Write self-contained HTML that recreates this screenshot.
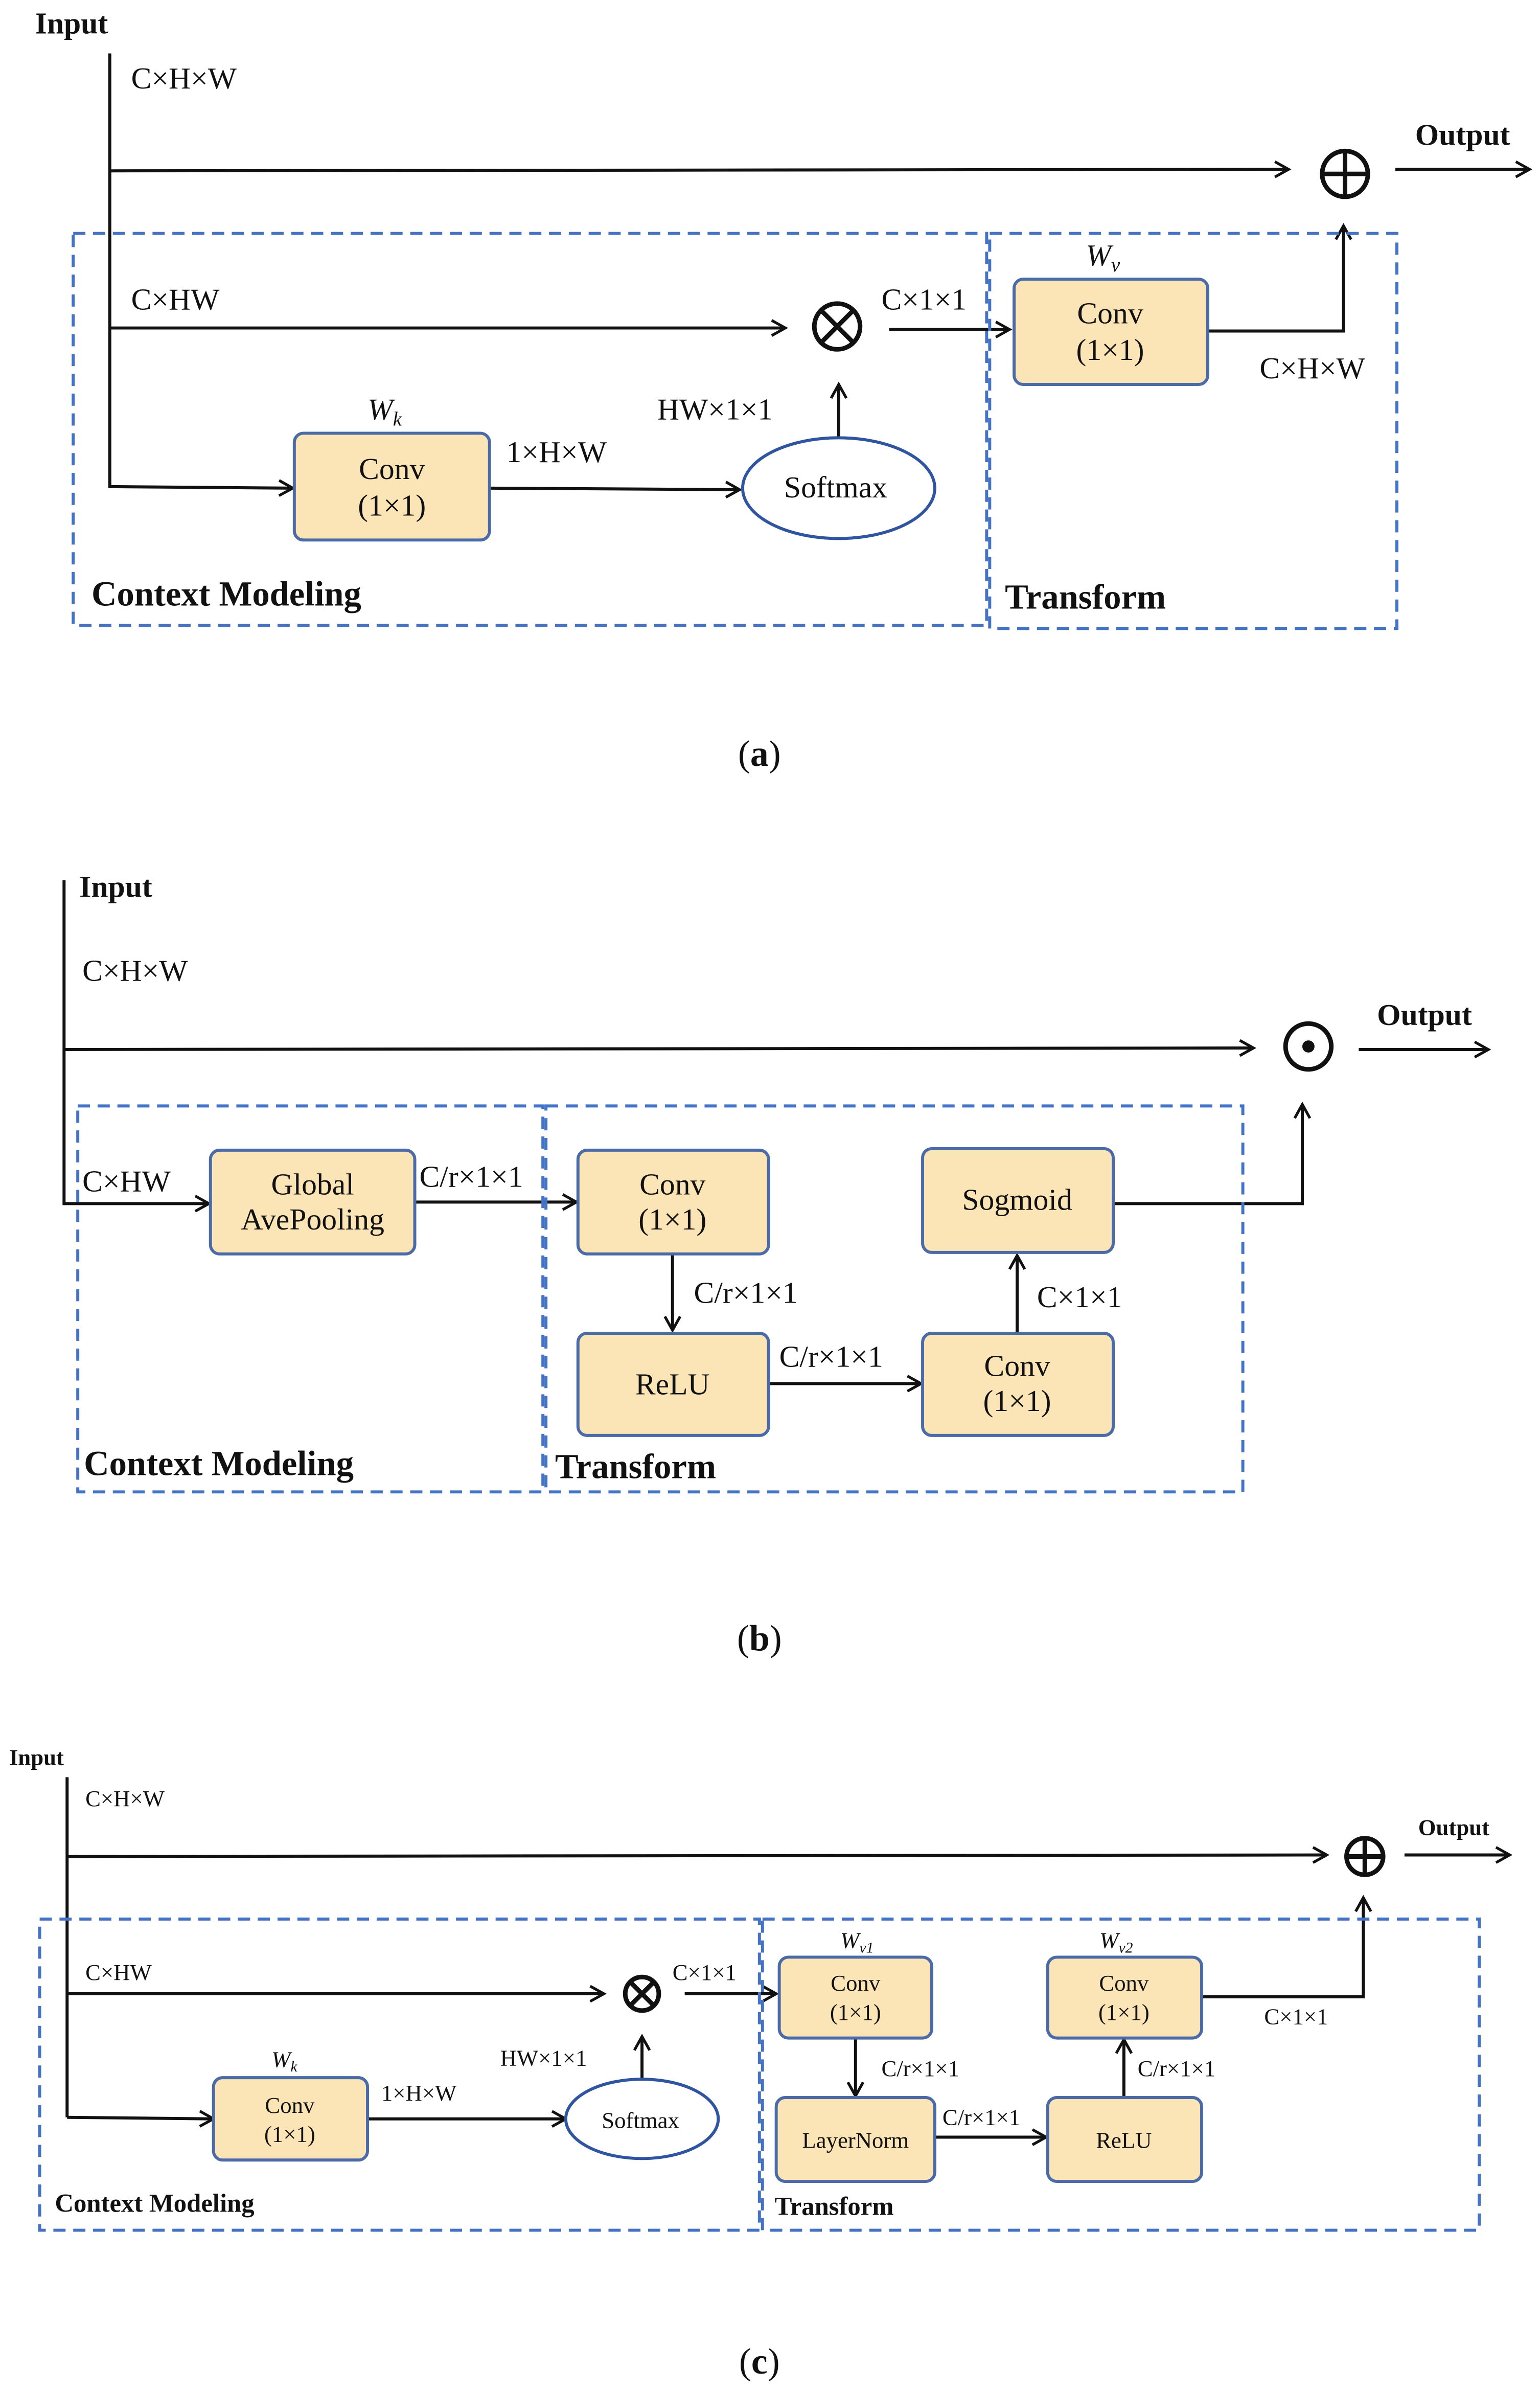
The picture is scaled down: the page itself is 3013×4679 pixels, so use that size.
<!DOCTYPE html>
<html><head><meta charset="utf-8"><style>
html,body{margin:0;padding:0;background:#fff;}
svg{display:block;}
text{font-family:"Liberation Serif",serif;fill:#111;}
.b{font-weight:bold;}
</style></head><body>
<svg width="3013" height="4679" viewBox="0 0 1024 1590" preserveAspectRatio="none" xmlns="http://www.w3.org/2000/svg">
<defs>
<marker id="ar" markerWidth="12" markerHeight="12" refX="10" refY="6" orient="auto" markerUnits="userSpaceOnUse">
<path d="M1,1 L10,6 L1,11" fill="none" stroke="#111" stroke-width="1.8"/>
</marker>
</defs>
<g transform="scale(1.014)">
<g stroke="#111" stroke-width="2" fill="none">
<line x1="72" y1="35" x2="72" y2="320"/>
<line x1="72" y1="112" x2="845" y2="111" marker-end="url(#ar)"/>
<line x1="915" y1="111" x2="1003" y2="111" marker-end="url(#ar)"/>
<line x1="72" y1="215" x2="515" y2="215" marker-end="url(#ar)"/>
<line x1="583" y1="216" x2="662" y2="216" marker-end="url(#ar)"/>
<polyline points="792,217 881,217 881,148" marker-end="url(#ar)"/>
<line x1="72" y1="319" x2="192" y2="320" marker-end="url(#ar)"/>
<line x1="321" y1="320" x2="485" y2="321" marker-end="url(#ar)"/>
<line x1="550" y1="287" x2="550" y2="252" marker-end="url(#ar)"/>
<line x1="42" y1="577" x2="42" y2="790"/>
<line x1="42" y1="688" x2="822" y2="687" marker-end="url(#ar)"/>
<line x1="891" y1="688" x2="976" y2="688" marker-end="url(#ar)"/>
<line x1="42" y1="789" x2="137" y2="789" marker-end="url(#ar)"/>
<line x1="272" y1="788" x2="378" y2="788" marker-end="url(#ar)"/>
<line x1="441" y1="822" x2="441" y2="872" marker-end="url(#ar)"/>
<line x1="504" y1="907" x2="604" y2="907" marker-end="url(#ar)"/>
<line x1="667" y1="874" x2="667" y2="823" marker-end="url(#ar)"/>
<polyline points="730,789 854,789 854,724" marker-end="url(#ar)"/>
<line x1="44" y1="1165" x2="44" y2="1388"/>
<line x1="44" y1="1217" x2="870" y2="1216" marker-end="url(#ar)"/>
<line x1="921" y1="1216" x2="990" y2="1216" marker-end="url(#ar)"/>
<line x1="44" y1="1307" x2="396" y2="1307" marker-end="url(#ar)"/>
<line x1="449" y1="1307" x2="509" y2="1307" marker-end="url(#ar)"/>
<line x1="561" y1="1336" x2="561" y2="1374" marker-end="url(#ar)"/>
<line x1="613" y1="1401" x2="686" y2="1401" marker-end="url(#ar)"/>
<line x1="737" y1="1375" x2="737" y2="1337" marker-end="url(#ar)"/>
<polyline points="788,1309 894,1309 894,1244" marker-end="url(#ar)"/>
<line x1="44" y1="1388" x2="140" y2="1389" marker-end="url(#ar)"/>
<line x1="241" y1="1389" x2="371" y2="1389" marker-end="url(#ar)"/>
<line x1="421" y1="1363" x2="421" y2="1335" marker-end="url(#ar)"/>
</g>
<g stroke="#4472c4" stroke-width="2" fill="none" stroke-dasharray="8,5">
<rect x="48" y="153" width="599" height="257"/>
<rect x="649" y="153" width="267" height="259"/>
<rect x="51" y="725" width="305" height="253"/>
<rect x="358" y="725" width="457" height="253"/>
<rect x="26" y="1258" width="472" height="204"/>
<rect x="500" y="1258" width="470" height="204"/>
</g>
<g fill="#fbe5b6" stroke="#4a6aa8" stroke-width="2">
<rect x="665" y="183" width="127" height="69" rx="6"/>
<rect x="193" y="284" width="128" height="70" rx="6"/>
<rect x="138" y="754" width="134" height="68" rx="6"/>
<rect x="379" y="754" width="125" height="68" rx="6"/>
<rect x="379" y="874" width="125" height="67" rx="6"/>
<rect x="605" y="874" width="125" height="67" rx="6"/>
<rect x="605" y="753" width="125" height="68" rx="6"/>
<rect x="511" y="1283" width="100" height="53" rx="6"/>
<rect x="509" y="1375" width="104" height="55" rx="6"/>
<rect x="687" y="1375" width="101" height="55" rx="6"/>
<rect x="687" y="1283" width="101" height="53" rx="6"/>
<rect x="140" y="1362" width="101" height="54" rx="6"/>
</g>
<g fill="#fff" stroke="#2f55a0" stroke-width="2">
<ellipse cx="550" cy="320" rx="63" ry="33"/>
<ellipse cx="421" cy="1389" rx="50" ry="26"/>
</g>
<g stroke="#111" stroke-width="3" fill="none">
<circle cx="882" cy="114" r="15"/><line x1="867" y1="114" x2="897" y2="114"/><line x1="882" y1="99" x2="882" y2="129"/>
<circle cx="549" cy="214" r="15"/><line x1="539" y1="204" x2="559" y2="224"/><line x1="559" y1="204" x2="539" y2="224"/>
<circle cx="858" cy="686" r="15"/>
<circle cx="895" cy="1217" r="12"/><line x1="883" y1="1217" x2="907" y2="1217"/><line x1="895" y1="1205" x2="895" y2="1229"/>
<circle cx="421" cy="1307" r="11"/><line x1="413" y1="1299" x2="429" y2="1315"/><line x1="429" y1="1299" x2="413" y2="1315"/>
</g>
<circle cx="858" cy="686" r="4" fill="#111"/>
<g font-size="20">
<text x="23" y="22" class="b">Input</text>
<text x="86" y="58">C×H×W</text>
<text x="928" y="95" class="b">Output</text>
<text x="86" y="203">C×HW</text>
<text x="578" y="203">C×1×1</text>
<text x="826" y="248">C×H×W</text>
<text x="332" y="303">1×H×W</text>
<text x="431" y="275">HW×1×1</text>
<text x="728" y="212" text-anchor="middle">Conv</text>
<text x="728" y="236" text-anchor="middle">(1×1)</text>
<text x="257" y="314" text-anchor="middle">Conv</text>
<text x="257" y="338" text-anchor="middle">(1×1)</text>
<text x="548" y="326" text-anchor="middle">Softmax</text>
<text x="712" y="174" font-style="italic">W<tspan font-size="13" dy="4">v</tspan></text>
<text x="241" y="275" font-style="italic">W<tspan font-size="13" dy="4">k</tspan></text>
<text x="60" y="397" class="b" font-size="23">Context Modeling</text>
<text x="659" y="399" class="b" font-size="23">Transform</text>
<text x="498" y="502" text-anchor="middle" font-size="24">(<tspan class="b">a</tspan>)</text>
</g>
<g font-size="20">
<text x="52" y="588" class="b">Input</text>
<text x="54" y="643">C×H×W</text>
<text x="903" y="672" class="b">Output</text>
<text x="54" y="781">C×HW</text>
<text x="275" y="778">C/r×1×1</text>
<text x="455" y="854">C/r×1×1</text>
<text x="511" y="896">C/r×1×1</text>
<text x="680" y="857">C×1×1</text>
<text x="205" y="783" text-anchor="middle">Global</text>
<text x="205" y="806" text-anchor="middle">AvePooling</text>
<text x="441" y="783" text-anchor="middle">Conv</text>
<text x="441" y="806" text-anchor="middle">(1×1)</text>
<text x="441" y="914" text-anchor="middle">ReLU</text>
<text x="667" y="902" text-anchor="middle">Conv</text>
<text x="667" y="925" text-anchor="middle">(1×1)</text>
<text x="667" y="793" text-anchor="middle">Sogmoid</text>
<text x="55" y="967" class="b" font-size="23">Context Modeling</text>
<text x="364" y="969" class="b" font-size="23">Transform</text>
<text x="498" y="1082" text-anchor="middle" font-size="24">(<tspan class="b">b</tspan>)</text>
</g>
<g font-size="15">
<text x="6" y="1157" class="b">Input</text>
<text x="56" y="1184">C×H×W</text>
<text x="930" y="1203" class="b">Output</text>
<text x="56" y="1298">C×HW</text>
<text x="441" y="1298">C×1×1</text>
<text x="578" y="1361">C/r×1×1</text>
<text x="618" y="1393">C/r×1×1</text>
<text x="746" y="1361">C/r×1×1</text>
<text x="829" y="1327">C×1×1</text>
<text x="250" y="1377">1×H×W</text>
<text x="328" y="1354">HW×1×1</text>
<text x="561" y="1305" text-anchor="middle">Conv</text>
<text x="561" y="1324" text-anchor="middle">(1×1)</text>
<text x="561" y="1408" text-anchor="middle">LayerNorm</text>
<text x="737" y="1408" text-anchor="middle">ReLU</text>
<text x="737" y="1305" text-anchor="middle">Conv</text>
<text x="737" y="1324" text-anchor="middle">(1×1)</text>
<text x="190" y="1385" text-anchor="middle">Conv</text>
<text x="190" y="1404" text-anchor="middle">(1×1)</text>
<text x="420" y="1395" text-anchor="middle">Softmax</text>
<text x="551" y="1277" font-style="italic">W<tspan font-size="10" dy="3">v1</tspan></text>
<text x="721" y="1277" font-style="italic">W<tspan font-size="10" dy="3">v2</tspan></text>
<text x="178" y="1355" font-style="italic">W<tspan font-size="10" dy="3">k</tspan></text>
<text x="36" y="1450" class="b" font-size="17">Context Modeling</text>
<text x="508" y="1452" class="b" font-size="17">Transform</text>
<text x="498" y="1556" text-anchor="middle" font-size="24">(<tspan class="b">c</tspan>)</text>
</g>
</g>
</svg>
</body></html>
